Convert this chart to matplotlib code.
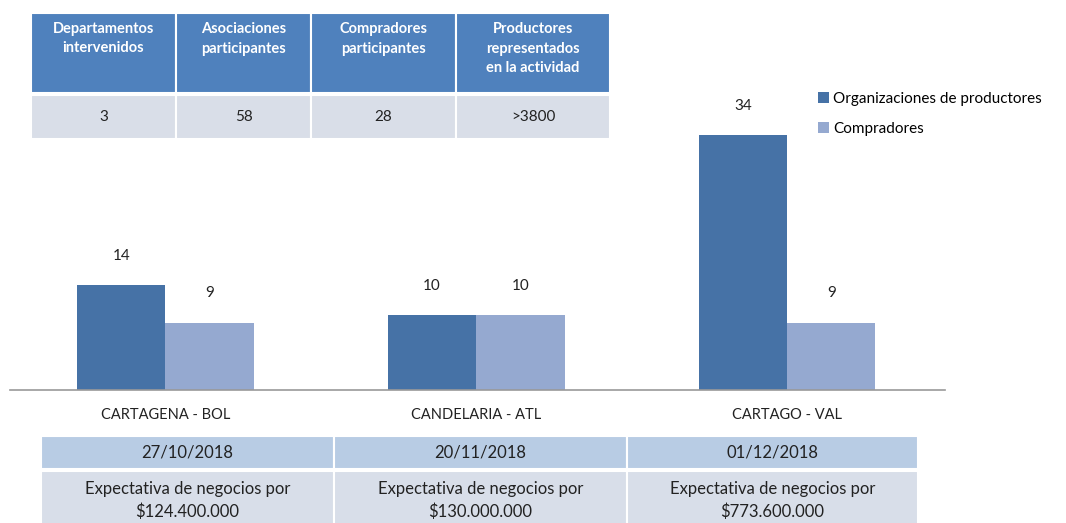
import numpy as np
import matplotlib.pyplot as plt
from matplotlib.patches import Rectangle

plt.rcParams['font.family'] = ['Lato', 'DejaVu Sans']

# Data
sedes = ["CARTAGENA - BOL", "CANDELARIA - ATL", "CARTAGO - VAL"]
organizaciones = [14, 10, 34]
compradores = [9, 10, 9]
fechas = ["27/10/2018", "20/11/2018", "01/12/2018"]
expectativas = ["$124.400.000", "$130.000.000", "$773.600.000"]

resumen_titulos = ["Departamentos\nintervenidos", "Asociaciones\nparticipantes",
                   "Compradores\nparticipantes", "Productores\nrepresentados\nen la actividad"]
resumen_valores = ["3", "58", "28", ">3800"]

c_org = "#4672A6"
c_comp = "#95A9D0"

W, H = 1066, 523
fig = plt.figure(figsize=(W / 100, H / 100), dpi=100)

def px(x, y):
    # pixel (from top-left) -> figure fraction
    return x / W, 1 - y / H

# Bar chart
left, right, base, top = 10, 945, 390, 60
ax = fig.add_axes([left / W, 1 - base / H, (right - left) / W, (base - top) / H])
x = np.arange(len(sedes))
bw = 0.284
b1 = ax.bar(x - bw / 2, organizaciones, bw, color=c_org, label="Organizaciones de productores")
b2 = ax.bar(x + bw / 2, compradores, bw, color=c_comp, label="Compradores")
for bars in (b1, b2):
    for r in bars:
        ax.annotate(str(int(r.get_height())), (r.get_x() + r.get_width() / 2, r.get_height()),
                    xytext=(0, 21), textcoords="offset points", ha="center", va="center",
                    fontsize=11, color="#222222")
ax.set_xlim(-0.5, 2.508)
ax.set_ylim(0, 44)
ax.set_xticks(x)
ax.set_xticklabels(sedes, fontsize=10.5, color="#222222")
ax.tick_params(axis="x", length=0, pad=13)
ax.set_yticks([])
for s in ["top", "left", "right"]:
    ax.spines[s].set_visible(False)
ax.spines["bottom"].set_color("#999999")
ax.spines["bottom"].set_linewidth(1.2)

leg = fig.legend(handles=[b1, b2], loc="upper left", bbox_to_anchor=px(812, 86),
                 frameon=False, fontsize=11, handlelength=0.7, handleheight=0.7,
                 handletextpad=0.3, labelspacing=1.05, borderaxespad=0)

def cell(x0, y0, x1, y1, color, text, tcolor, bold=False, size=10, ty=None, ls=1.25):
    fx0, fy1 = px(x0, y1)
    fig.patches.append(Rectangle((fx0, fy1), (x1 - x0) / W, (y1 - y0) / H,
                                 transform=fig.transFigure, facecolor=color,
                                 edgecolor="white", linewidth=1.5))
    if ty is None:
        cx, cy = px((x0 + x1) / 2, (y0 + y1) / 2)
        va = "center"
    else:
        cx, cy = px((x0 + x1) / 2, ty)
        va = "top"
    fig.text(cx, cy, text, ha="center", va=va, color=tcolor, fontsize=size,
             fontweight="bold" if bold else "normal", linespacing=ls)

# Summary table (top)
cols = [31, 176, 311, 456, 610]
for i in range(4):
    cell(cols[i], 13, cols[i + 1], 93, "#4F81BD", resumen_titulos[i], "white",
         bold=True, size=10.5, ty=22, ls=1.5)
    cell(cols[i], 95, cols[i + 1], 139, "#D9DEE8", resumen_valores[i], "#222222", size=11)

# Date / expectation table (bottom)
cols2 = [41, 334, 627, 918]
for i in range(3):
    cell(cols2[i], 436, cols2[i + 1], 469, "#B8CCE4", fechas[i], "#222222", size=12)
    cell(cols2[i], 471, cols2[i + 1], 530, "#D8DEE9",
         "Expectativa de negocios por\n" + expectativas[i], "#222222", size=12,
         ty=481, ls=1.5)

fig.savefig("out.png", dpi=100)
